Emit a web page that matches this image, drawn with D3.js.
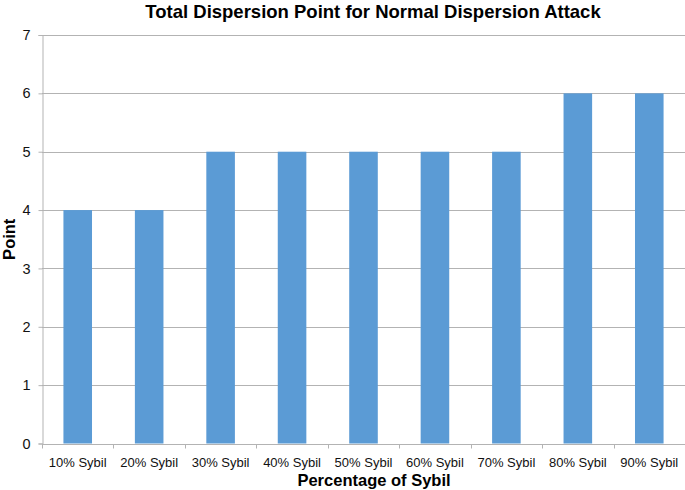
<!DOCTYPE html>
<html>
<head>
<meta charset="utf-8">
<script src="https://cdn.jsdelivr.net/npm/d3@7"></script>
<style>
  body { margin: 0; background: #fff; }
  svg { display: block; font-family: "Liberation Sans", Arial, sans-serif; }
</style>
</head>
<body>
<div id="chart"></div>
<script>
  const categories = ["10% Sybil", "20% Sybil", "30% Sybil", "40% Sybil", "50% Sybil",
                      "60% Sybil", "70% Sybil", "80% Sybil", "90% Sybil"];
  const points = [4, 4, 5, 5, 5, 5, 5, 6, 6];
  const yTicks = [0, 1, 2, 3, 4, 5, 6, 7];

  const W = 685, H = 490;
  const margin = { top: 35, right: 0, bottom: 46, left: 42 };
  const BAR = "#5b9bd5";
  const GRID = "#b3b3b3";

  const svg = d3.select("#chart").append("svg")
    .attr("width", W).attr("height", H);

  const x = d3.scaleBand()
    .domain(categories)
    .range([margin.left, W - margin.right])
    .paddingInner(0.6).paddingOuter(0.3);

  const y = d3.scaleLinear()
    .domain([0, 7])
    .range([H - margin.bottom - 0.5, margin.top]);

  // gridlines
  svg.append("g").selectAll("line")
    .data(yTicks.filter(d => d > 0))
    .join("line")
    .attr("x1", margin.left).attr("x2", W - margin.right)
    .attr("y1", d => Math.round(y(d)) + 0.5).attr("y2", d => Math.round(y(d)) + 0.5)
    .attr("stroke", GRID).attr("stroke-width", 1);

  // bars
  svg.append("g").selectAll("rect")
    .data(points)
    .join("rect")
    .attr("x", (d, i) => x(categories[i]))
    .attr("width", x.bandwidth())
    .attr("y", d => y(d))
    .attr("height", d => y(0) - y(d))
    .attr("fill", BAR);

  // y axis
  const yAxis = svg.append("g")
    .attr("transform", `translate(${margin.left + 0.5},0)`)
    .call(d3.axisLeft(y).tickValues(yTicks).tickSize(4).tickPadding(8).tickFormat(d3.format("d")));
  yAxis.select(".domain").attr("stroke", GRID);
  yAxis.selectAll(".tick line").attr("stroke", GRID);
  yAxis.selectAll("text").attr("font-size", 14.5).attr("fill", "#111").attr("font-family", null);

  // x axis with ticks at category boundaries
  const x0 = margin.left, step = (W - margin.right - margin.left) / categories.length;
  const xAxisG = svg.append("g")
    .attr("transform", `translate(0,${Math.round(y(0)) + 0.5})`);
  xAxisG.append("line")
    .attr("x1", x0).attr("x2", W - margin.right)
    .attr("stroke", GRID);
  xAxisG.selectAll(".bt")
    .data(d3.range(categories.length + 1))
    .join("line")
    .attr("class", "bt")
    .attr("x1", i => Math.round(x0 + i * step) + 0.5)
    .attr("x2", i => Math.round(x0 + i * step) + 0.5)
    .attr("y1", 0).attr("y2", 4)
    .attr("stroke", GRID);
  xAxisG.selectAll("text")
    .data(categories)
    .join("text")
    .attr("x", d => x(d) + x.bandwidth() / 2)
    .attr("y", 22)
    .attr("text-anchor", "middle")
    .attr("font-size", 13)
    .attr("fill", "#111")
    .text(d => d);

  // titles
  svg.append("text")
    .attr("x", 373).attr("y", 18)
    .attr("text-anchor", "middle")
    .attr("font-size", 18.5).attr("font-weight", "bold")
    .text("Total Dispersion Point for Normal Dispersion Attack");

  svg.append("text")
    .attr("x", 374).attr("y", 486)
    .attr("text-anchor", "middle")
    .attr("font-size", 16.5).attr("font-weight", "bold")
    .text("Percentage of Sybil");

  svg.append("text")
    .attr("transform", `translate(15,${(y(0) + y(7)) / 2}) rotate(-90)`)
    .attr("text-anchor", "middle")
    .attr("font-size", 16.5).attr("font-weight", "bold")
    .text("Point");
</script>
</body>
</html>
